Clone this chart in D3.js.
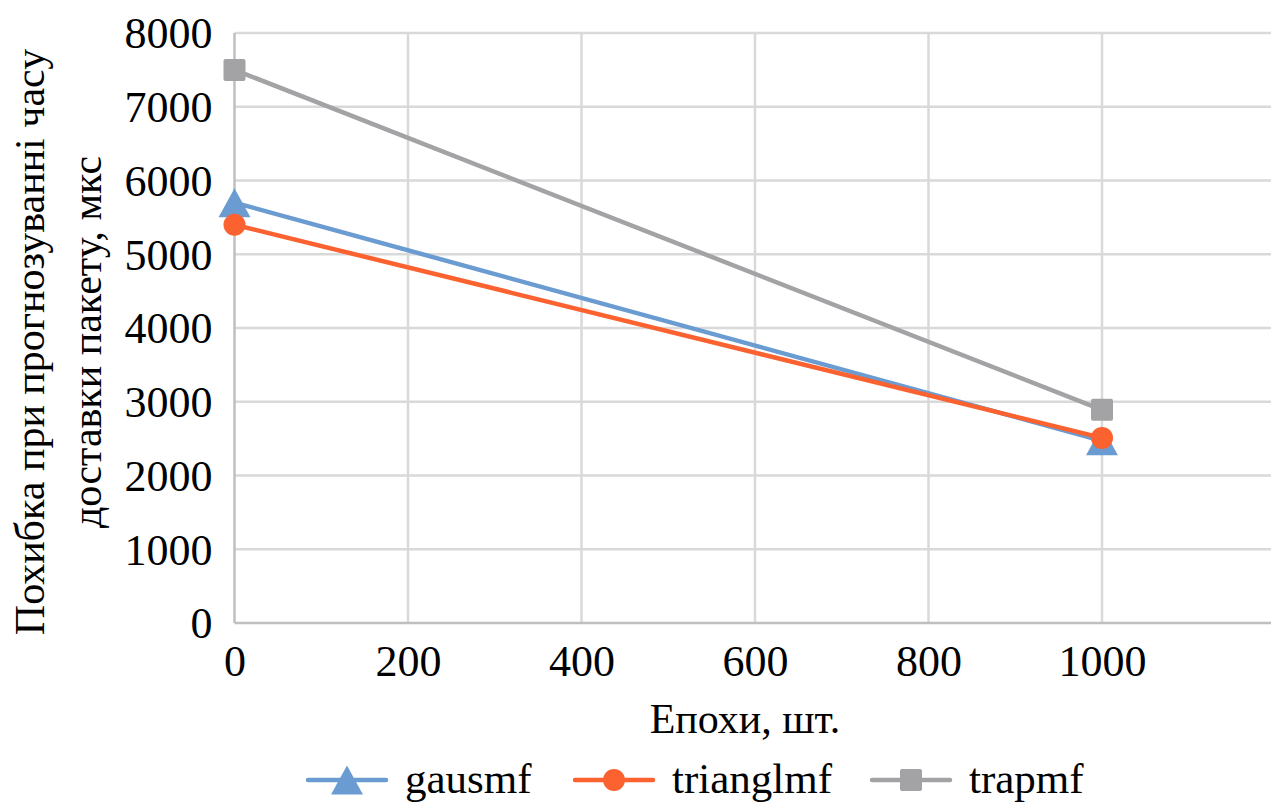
<!DOCTYPE html>
<html><head><meta charset="utf-8">
<script src="https://cdn.jsdelivr.net/npm/d3@7"></script>
<style>body{margin:0;background:#fff}svg{display:block}svg text{font-family:"Liberation Serif","Times New Roman","Nimbus Roman","DejaVu Serif",serif !important;fill:#000}</style>
</head><body>
<svg id="c" width="1271" height="807"></svg>
<script>
const epochs = [0, 1000];
const gausmf = [5700, 2470];
const trianglmf = [5400, 2510];
const trapmf = [7500, 2890];
const seriesNames = ["gausmf", "trianglmf", "trapmf"];
const xTicks = [0, 200, 400, 600, 800, 1000];
const xGrid = [200, 400, 600, 800, 1000, 1200];
const yTicks = [0, 1000, 2000, 3000, 4000, 5000, 6000, 7000, 8000];
const xTitle = "Епохи, шт.";
const yTitle = ["Похибка при прогнозуванні часу", "доставки пакету, мкс"];

const svg = d3.select("#c");
const x = d3.scaleLinear().domain([0, 1200]).range([234.5, 1275.5]);
const y = d3.scaleLinear().domain([0, 8000]).range([623, 33]);

// grid
svg.append("g").selectAll("line").data(yTicks.filter(d => d > 0)).join("line")
  .attr("x1", x(0)).attr("x2", 1271).attr("y1", d => y(d)).attr("y2", d => y(d))
  .attr("stroke", "#d9d9d9").attr("stroke-width", 2.5);
svg.append("g").selectAll("line").data(xGrid).join("line")
  .attr("y1", y(0)).attr("y2", y(8000)).attr("x1", d => x(d)).attr("x2", d => x(d))
  .attr("stroke", "#d9d9d9").attr("stroke-width", 2.5);
// axes lines
svg.append("line").attr("x1", x(0)).attr("x2", 1271).attr("y1", y(0)).attr("y2", y(0)).attr("stroke", "#bfbfbf").attr("stroke-width", 2.5);
svg.append("line").attr("x1", x(0)).attr("x2", x(0)).attr("y1", y(0)).attr("y2", y(8000)).attr("stroke", "#bfbfbf").attr("stroke-width", 2.5);

// tick labels
const xAxis = d3.axisBottom(x).tickValues(xTicks).tickSize(0).tickPadding(0).tickFormat(d3.format("d"));
const gx = svg.append("g").attr("transform", `translate(0,${y(0) + 22})`).call(xAxis);
gx.attr("font-family", null);
gx.select(".domain").remove();
gx.selectAll("text").attr("font-size", 44).attr("fill", "#000").attr("dy", "0.71em");
const yAxis = d3.axisLeft(y).tickValues(yTicks).tickSize(0).tickPadding(0).tickFormat(d3.format("d"));
const gy = svg.append("g").attr("transform", `translate(${x(0) - 22},0)`).call(yAxis);
gy.attr("font-family", null);
gy.select(".domain").remove();
gy.selectAll("text").attr("font-size", 44).attr("fill", "#000").attr("dy", "0.34em");

// titles
svg.append("text").attr("x", 745).attr("y", 733).attr("text-anchor", "middle").attr("font-size", 42).text(xTitle);
const yBase = [44, 101];
yTitle.forEach((t, i) => {
  svg.append("text").attr("transform", `translate(${yBase[i]},342) rotate(-90)`)
    .attr("text-anchor", "middle").attr("font-size", 42).text(t);
});

const colors = {gausmf: "#6a9bd1", trianglmf: "#fb6230", trapmf: "#a3a3a6"};
const data = {gausmf, trianglmf, trapmf};
const line = d3.line().x((d, i) => x(epochs[i])).y(d => y(d));

// Excel-style triangle: centred on its bounding box
const boxTriangle = {
  draw(ctx, size) {
    const h = Math.sqrt(size);
    ctx.moveTo(0, -h / 2);
    ctx.lineTo(h * 0.55, h / 2);
    ctx.lineTo(-h * 0.55, h / 2);
    ctx.closePath();
  }
};

function marker(g, name, cx, cy) {
  const c = colors[name];
  if (name === "gausmf") {
    g.append("path").attr("d", d3.symbol(boxTriangle, 841)()).attr("transform", `translate(${cx},${cy})`).attr("fill", c);
  } else if (name === "trianglmf") {
    g.append("circle").attr("cx", cx).attr("cy", cy).attr("r", 11).attr("fill", c);
  } else {
    g.append("rect").attr("x", cx - 11).attr("y", cy - 11).attr("width", 22).attr("height", 22).attr("rx", 2).attr("fill", c);
  }
}

["trapmf", "gausmf", "trianglmf"].forEach(name => {
  const g = svg.append("g");
  g.append("path").attr("d", line(data[name])).attr("fill", "none").attr("stroke", colors[name]).attr("stroke-width", 4.5).attr("stroke-linecap", "round");
  data[name].forEach((v, i) => marker(g, name, x(epochs[i]), y(v)));
});

// legend
const legX = [308, 575, 872];
seriesNames.forEach((name, i) => {
  const g = svg.append("g");
  const ly = 780;
  g.append("line").attr("x1", legX[i]).attr("x2", legX[i] + 78).attr("y1", ly).attr("y2", ly).attr("stroke", colors[name]).attr("stroke-width", 4.5).attr("stroke-linecap", "round");
  marker(g, name, legX[i] + 39, ly);
  g.append("text").attr("x", legX[i] + 97).attr("y", ly).attr("dy", "0.3em").attr("font-size", 43).text(name);
});
</script>
</body></html>
